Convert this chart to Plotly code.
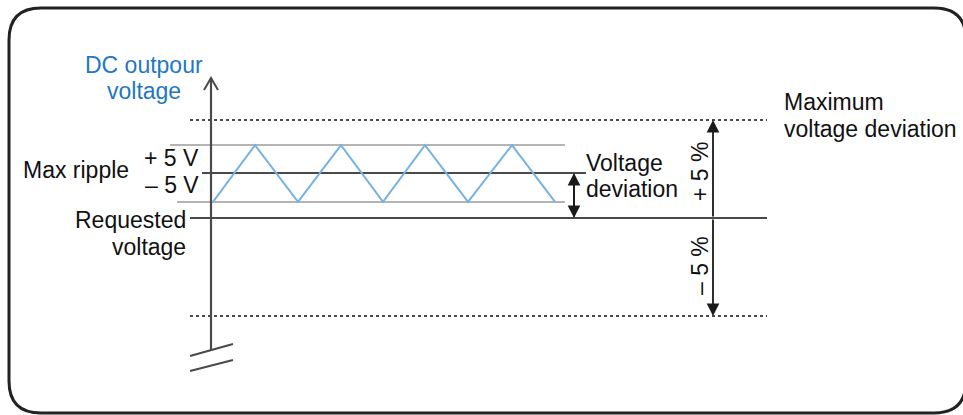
import plotly.graph_objects as go

# ---- data (time in horizontal units, voltage as % deviation from requested) ----
ripple_t = [213, 255, 298, 341, 383, 425, 468, 512, 555]
ripple_v = [0.82, 3.72, 0.82, 3.72, 0.82, 3.72, 0.82, 3.72, 0.82]
ripple_top = 3.72
ripple_bottom = 0.82
ripple_center = 2.30
requested = 0.0
max_dev_plus = 5.0
max_dev_minus = -5.0

W, H = 963, 415
PX_PER_UNIT = 19.6
Y0_PX = 218


def v(py):
    return (Y0_PX - py) / PX_PER_UNIT


BLUE = "#1f78c1"
RIPPLE = "#74b3e2"
DARK = "#4a4a4a"
LIGHT = "#b4b4b4"
TXT = "#111111"
FONT = "Liberation Sans, Arial, sans-serif"

fig = go.Figure()


def line(xs, ys, color, width=2, dash="solid"):
    fig.add_trace(go.Scatter(x=xs, y=ys, mode="lines", hoverinfo="skip",
                             line=dict(color=color, width=width, dash=dash),
                             showlegend=False))


# reference lines
line([190, 767], [max_dev_plus] * 2, DARK, 2, "dot")
line([190, 767], [max_dev_minus] * 2, DARK, 2, "dot")
line([170, 565], [ripple_top] * 2, LIGHT, 2)
line([177, 565], [ripple_bottom] * 2, LIGHT, 2)
line([202, 586], [ripple_center] * 2, DARK, 2)
line([190, 767], [requested] * 2, DARK, 2)

# ripple
line(ripple_t, ripple_v, RIPPLE, 2)

# vertical axis with open arrow head
line([211, 211], [v(350), v(78)], DARK, 2.2)
line([204, 211, 218], [v(90), v(78), v(90)], DARK, 2)

# axis break marks
line([190, 233], [v(356), v(344)], DARK, 2)
line([190, 233], [v(371), v(360)], DARK, 2)

# double-headed arrows
for x, ya, yb in [(574, requested, ripple_center), (574, ripple_center, requested),
                  (713, requested, max_dev_plus), (713, requested, max_dev_minus)]:
    fig.add_annotation(x=x, y=yb, ax=x, ay=ya, axref="x", ayref="y", xref="x", yref="y",
                       text="", showarrow=True, arrowhead=2, arrowsize=1.4,
                       arrowwidth=1.8, arrowcolor="#1a1a1a")


def text(t, x, py, anchor="left", color=TXT, angle=0, size=23):
    fig.add_annotation(x=x, y=v(py), xref="x", yref="y", text=t, showarrow=False,
                       xanchor=anchor, yanchor="middle", textangle=angle,
                       font=dict(family=FONT, size=size, color=color))


text("DC outpour", 144, 64.5, "center", BLUE)
text("voltage", 144, 91, "center", BLUE)
text("Max ripple", 21, 169.5, "left")
text("+ 5 V", 201, 157.5, "right")
text("– 5 V", 201, 184.5, "right")
text("Requested", 188, 219.5, "right")
text("voltage", 188, 247, "right")
text("Voltage", 584, 162.5, "left")
text("deviation", 584, 188.5, "left")
text("Maximum", 782, 102, "left")
text("voltage deviation", 782, 129, "left")
text("+ 5 %", 700, 172, "center", angle=-90)
text("– 5 %", 700, 266, "center", angle=-90)

# rounded frame (paper coordinates)
x0, x1 = 9 / W, 966 / W
y0, y1 = 1 - 413 / H, 1 - 8 / H
rx, ry = 32 / W, 32 / H
path = (f"M {x0 + rx} {y1} L {x1 - rx} {y1} Q {x1} {y1} {x1} {y1 - ry} "
        f"L {x1} {y0 + ry} Q {x1} {y0} {x1 - rx} {y0} L {x0 + rx} {y0} "
        f"Q {x0} {y0} {x0} {y0 + ry} L {x0} {y1 - ry} Q {x0} {y1} {x0 + rx} {y1} Z")
fig.add_shape(type="path", path=path, xref="paper", yref="paper",
              line=dict(color="#222222", width=3))

fig.update_layout(
    width=W, height=H, margin=dict(l=0, r=0, t=0, b=0),
    paper_bgcolor="white", plot_bgcolor="white",
    xaxis=dict(range=[0, W], visible=False, fixedrange=True),
    yaxis=dict(range=[v(H), v(0)], visible=False, fixedrange=True),
    showlegend=False,
)

fig.write_html("out.html", config={"displayModeBar": False},
               post_script="document.body.style.margin='0';document.body.style.overflow='hidden';")
